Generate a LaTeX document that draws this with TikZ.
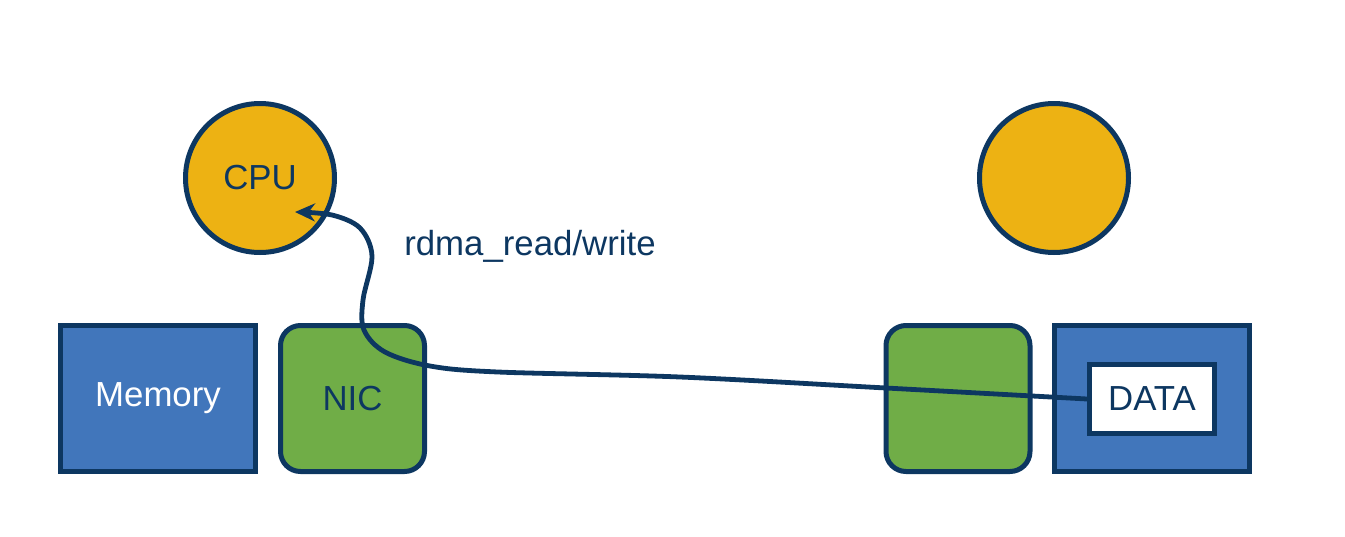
\documentclass[tikz,border=0pt]{standalone}
\usepackage{fontspec}
\setmainfont{Liberation Sans}
\usetikzlibrary{arrows.meta,calc}

\definecolor{navy}{HTML}{0D3761}
\definecolor{memblue}{HTML}{4176BB}
\definecolor{nicgreen}{HTML}{70AD47}
\definecolor{cpuyellow}{HTML}{EDB213}

\begin{document}
\begin{tikzpicture}[x=0.5pt,y=-0.5pt,font=\fontsize{17.4}{20}\selectfont]

\useasboundingbox (0,0) rectangle (1345,536);

\tikzstyle{cpu}=[circle,draw=navy,fill=cpuyellow,line width=2.5pt,minimum size=74.5pt,inner sep=0pt,text=navy]
\tikzstyle{mem}=[rectangle,draw=navy,fill=memblue,line width=2.5pt,minimum width=97.5pt,minimum height=73pt,inner sep=0pt,text=white,text height=1.6ex,text depth=0.1ex]
\tikzstyle{nic}=[rectangle,rounded corners=10pt,draw=navy,fill=nicgreen,line width=2.5pt,minimum width=72pt,minimum height=73pt,inner sep=0pt,text=navy]
\tikzstyle{data}=[rectangle,draw=navy,fill=white,line width=2.5pt,minimum width=62.5pt,minimum height=34.5pt,inner sep=0pt,text=navy]

% left host
\node (cpuA) [cpu] at (260,178) {CPU};
\node (memA) [mem] at (158,398.5) {Memory};
\node (nicA) [nic] at (352.5,398.5) {NIC};

% right host
\node (cpuB) [cpu] at (1054,178) {};
\node (nicB) [nic] at (958,398.5) {};
\node (memB) [mem] at (1152,398.5) {};
\node (data) [data] at (1152,399) {DATA};

\node (op) [text=navy] at (530,246) {rdma\_read/write};

\coordinate (tip) at ($(cpuA.center)+(35,34)$);

\draw [line width=2.4pt,navy,-{Stealth[length=10pt,width=9pt]}] plot[smooth, tension=.55] coordinates { (data.west) (886,388) (680,377) (498,372) (430,366) (385,352) (364,330) (363,300) (372,256) (360,228) (332,215) (tip) };

\end{tikzpicture}
\end{document}
